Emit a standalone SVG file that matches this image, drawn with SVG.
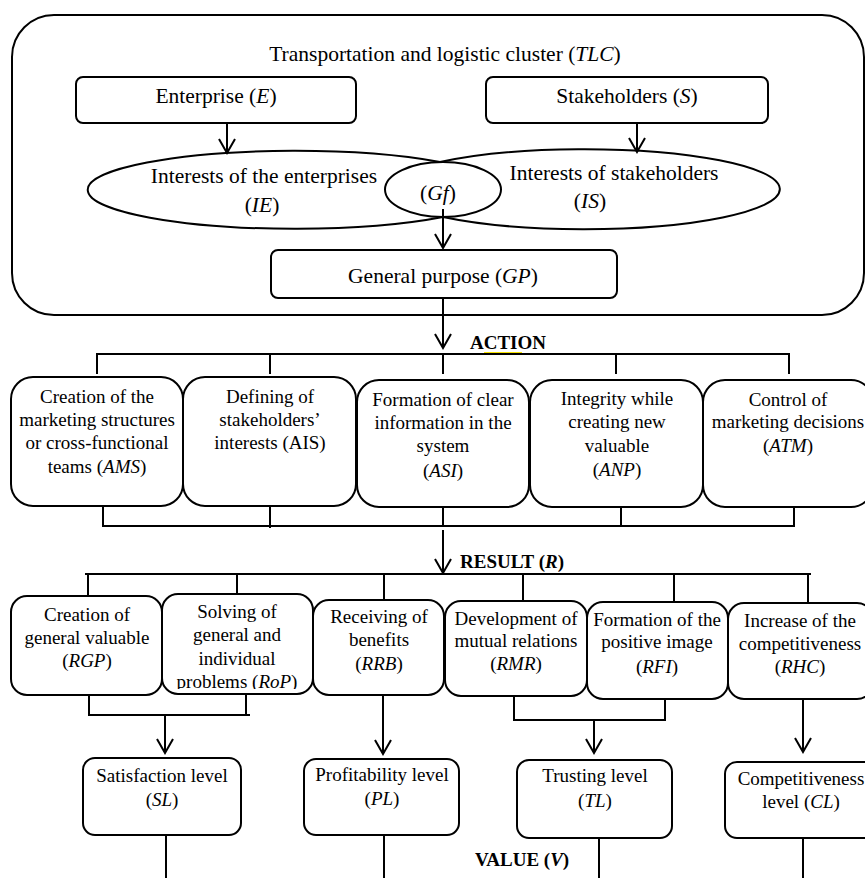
<svg xmlns="http://www.w3.org/2000/svg" width="865" height="878" viewBox="0 0 865 878">
<style>
.box{fill:#fff;stroke:#000;stroke-width:2}
.ell{fill:none;stroke:#000;stroke-width:2}
.ln{fill:none;stroke:#000;stroke-width:2}
.t{font-family:"Liberation Serif","Times New Roman",serif;font-size:21.5px;fill:#000;text-anchor:middle}
.s{font-family:"Liberation Serif","Times New Roman",serif;font-size:19px;fill:#000;text-anchor:middle}
.h{font-family:"Liberation Serif","Times New Roman",serif;font-size:19px;font-weight:bold;fill:#000}
.i{font-style:italic}
</style>
<defs>
<marker id="arr" viewBox="-16 -10 18 20" refX="0" refY="0" markerWidth="18" markerHeight="20" markerUnits="userSpaceOnUse" orient="auto">
<path d="M-14,-8 L0,0 L-14,8" fill="none" stroke="#000" stroke-width="2"/>
</marker>
<clipPath id="clipRoP"><rect x="162" y="594" width="151" height="95"/></clipPath>
</defs>
<rect width="865" height="878" fill="#fff"/>

<g id="cluster">
<rect class="box" x="12" y="15" width="852" height="300" rx="42" ry="42"/>
<text class="t" x="445" y="61">Transportation and logistic cluster (<tspan class="i">TLC</tspan>)</text>
</g>
<g id="enterprise">
<rect class="box" x="76" y="77" width="280" height="46" rx="7"/>
<text class="t" x="216" y="103">Enterprise (<tspan class="i">E</tspan>)</text>
</g>
<g id="stakeholders">
<rect class="box" x="486" y="77" width="282" height="46" rx="7"/>
<text class="t" x="627" y="103">Stakeholders (<tspan class="i">S</tspan>)</text>
</g>
<g id="interests-enterprises">
<path class="ell" d="M440,162 A207,39 0 1 0 443,217"/>
<text class="t" x="264" y="183">Interests of the enterprises</text>
<text class="t" x="262" y="212">(<tspan class="i">IE</tspan>)</text>
</g>
<g id="interests-stakeholders">
<path class="ell" d="M440,162 A196,40 0 1 1 443,217"/>
<text class="t" x="614" y="180">Interests of stakeholders</text>
<text class="t" x="590" y="208">(<tspan class="i">IS</tspan>)</text>
</g>
<g id="general-fields">
<ellipse class="ell" cx="443" cy="189.5" rx="58" ry="27.5"/>
<text class="t" x="438" y="200">(<tspan class="i">Gf</tspan>)</text>
</g>
<g id="general-purpose">
<rect class="box" x="271" y="250" width="346" height="48" rx="7"/>
<text class="t" x="443" y="283">General purpose (<tspan class="i">GP</tspan>)</text>
</g>

<g id="action-label">
<text class="h" x="470" y="349">ACTION</text>
<line x1="484" y1="352.5" x2="522" y2="352.5" stroke="#f5e000" stroke-width="1.2"/>
</g>

<g id="AMS">
<rect class="box" x="11" y="377" width="172" height="129" rx="22"/>
<text class="s" x="97" y="403">Creation of the</text>
<text class="s" x="97" y="426">marketing structures</text>
<text class="s" x="97" y="449">or cross-functional</text>
<text class="s" x="97" y="473">teams (<tspan class="i">AMS</tspan>)</text>
</g>
<g id="AIS">
<rect class="box" x="183" y="377" width="173" height="129" rx="22"/>
<text class="s" x="270" y="403">Defining of</text>
<text class="s" x="270" y="426">stakeholders’</text>
<text class="s" x="270" y="449">interests (AIS)</text>
</g>
<g id="ASI">
<rect class="box" x="357" y="380" width="172" height="127" rx="22"/>
<text class="s" x="443" y="406">Formation of clear</text>
<text class="s" x="443" y="429">information in the</text>
<text class="s" x="443" y="452">system</text>
<text class="s" x="443" y="477">(<tspan class="i">ASI</tspan>)</text>
</g>
<g id="ANP">
<rect class="box" x="530" y="380" width="173" height="127" rx="22"/>
<text class="s" x="617" y="405">Integrity while</text>
<text class="s" x="617" y="428">creating new</text>
<text class="s" x="617" y="452">valuable</text>
<text class="s" x="617" y="476">(<tspan class="i">ANP</tspan>)</text>
</g>
<g id="ATM">
<rect class="box" x="703" y="380" width="170" height="127" rx="22"/>
<text class="s" x="788" y="406">Control of</text>
<text class="s" x="788" y="428">marketing decisions</text>
<text class="s" x="788" y="452">(<tspan class="i">ATM</tspan>)</text>
</g>

<g id="result-label">
<text class="h" x="460" y="568">RESULT (<tspan class="i">R</tspan>)</text>
</g>

<g id="RGP">
<rect class="box" x="11" y="596" width="151" height="99" rx="16"/>
<text class="s" x="87" y="621">Creation of</text>
<text class="s" x="87" y="644">general valuable</text>
<text class="s" x="87" y="667">(<tspan class="i">RGP</tspan>)</text>
</g>
<g id="RoP">
<rect class="box" x="162" y="594" width="151" height="100" rx="16"/>
<g clip-path="url(#clipRoP)">
<text class="s" x="237" y="618">Solving of</text>
<text class="s" x="237" y="641">general and</text>
<text class="s" x="237" y="665">individual</text>
<text class="s" x="237" y="688">problems (<tspan class="i">RoP</tspan>)</text>
</g>
</g>
<g id="RRB">
<rect class="box" x="313" y="600" width="131" height="95" rx="16"/>
<text class="s" x="379" y="623">Receiving of</text>
<text class="s" x="379" y="646">benefits</text>
<text class="s" x="379" y="670">(<tspan class="i">RRB</tspan>)</text>
</g>
<g id="RMR">
<rect class="box" x="445" y="601" width="142" height="95" rx="16"/>
<text class="s" x="516" y="625">Development of</text>
<text class="s" x="516" y="647">mutual relations</text>
<text class="s" x="516" y="670">(<tspan class="i">RMR</tspan>)</text>
</g>
<g id="RFI">
<rect class="box" x="587" y="602" width="141" height="97" rx="16"/>
<text class="s" x="657" y="626">Formation of the</text>
<text class="s" x="657" y="648">positive image</text>
<text class="s" x="657" y="673">(<tspan class="i">RFI</tspan>)</text>
</g>
<g id="RHC">
<rect class="box" x="728" y="603" width="145" height="96" rx="16"/>
<text class="s" x="800" y="627">Increase of the</text>
<text class="s" x="800" y="650">competitiveness</text>
<text class="s" x="800" y="673">(<tspan class="i">RHC</tspan>)</text>
</g>

<g id="SL">
<rect class="box" x="83" y="758" width="158" height="77" rx="12"/>
<text class="s" x="162" y="782">Satisfaction level</text>
<text class="s" x="162" y="806">(<tspan class="i">SL</tspan>)</text>
</g>
<g id="PL">
<rect class="box" x="304" y="759" width="155" height="76" rx="12"/>
<text class="s" x="382" y="781">Profitability level</text>
<text class="s" x="382" y="805">(<tspan class="i">PL</tspan>)</text>
</g>
<g id="TL">
<rect class="box" x="517" y="760" width="155" height="78" rx="12"/>
<text class="s" x="595" y="782">Trusting level</text>
<text class="s" x="595" y="807">(<tspan class="i">TL</tspan>)</text>
</g>
<g id="CL">
<rect class="box" x="725" y="762" width="152" height="76" rx="12"/>
<text class="s" x="801" y="785">Competitiveness</text>
<text class="s" x="801" y="808">level (<tspan class="i">CL</tspan>)</text>
</g>

<g id="value-label">
<text class="h" x="475" y="866">VALUE (<tspan class="i">V</tspan>)</text>
</g>

<g id="connectors">
<line class="ln" x1="227" y1="123" x2="227" y2="153" marker-end="url(#arr)"/>
<line class="ln" x1="637" y1="123" x2="637" y2="152" marker-end="url(#arr)"/>
<line class="ln" x1="443" y1="209" x2="443" y2="248" marker-end="url(#arr)"/>
<line class="ln" x1="443" y1="298" x2="443" y2="348" marker-end="url(#arr)"/>
<path class="ln" d="M97,374 V354 H789 V374 M270,354 V374 M443,354 V374 M616,354 V374"/>
<path class="ln" d="M103,506 V526 H794 V508 M270,506 V528 M443,507 V526 M621,507 V526"/>
<line class="ln" x1="443" y1="530" x2="443" y2="573" marker-end="url(#arr)"/>
<path class="ln" d="M85,574 H811 M88,574 V596 M237,574 V594 M384,574 V600 M523,574 V601 M674,574 V602 M808,574 V603"/>
<path class="ln" d="M89,695 V715 H250 M246,694 V715"/>
<line class="ln" x1="165" y1="715" x2="165" y2="753" marker-end="url(#arr)"/>
<line class="ln" x1="383" y1="695" x2="383" y2="754" marker-end="url(#arr)"/>
<path class="ln" d="M514,696 V720 H666 M665,699 V720"/>
<line class="ln" x1="594" y1="720" x2="594" y2="753" marker-end="url(#arr)"/>
<line class="ln" x1="803" y1="699" x2="803" y2="752" marker-end="url(#arr)"/>
<path class="ln" d="M166,835 V878 M384,835 V878 M599,838 V878 M803,838 V878"/>
</g>
</svg>
